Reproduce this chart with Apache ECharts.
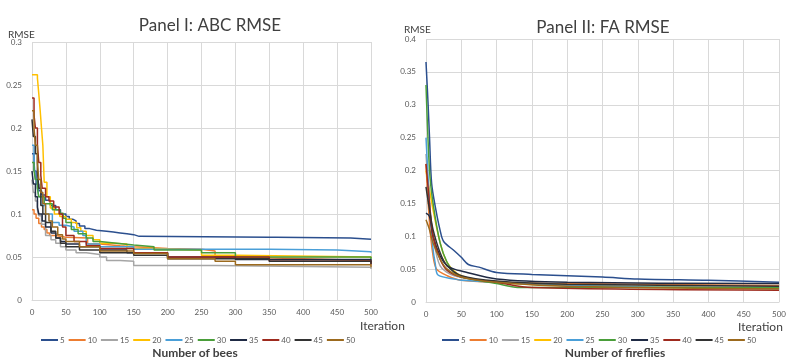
<!DOCTYPE html>
<html>
<head>
<meta charset="utf-8">
<script src="https://cdn.jsdelivr.net/npm/echarts@6/dist/echarts.min.js"></script>
<style>
  html, body {margin: 0; padding: 0; background: #fff;}
  #chart {width: 789px; height: 361px;}
</style>
</head>
<body>
<div id="chart"></div>
<script>
// legend names (population size)
var sizes = ['5', '10', '15', '20', '25', '30', '35', '40', '45', '50'];
var colors = ['#2b4f8e', '#ed7d31', '#a5a5a5', '#ffc000', '#4a9fd8', '#4a9e3a', '#1f2a44', '#9e2a1e', '#333333', '#9c6a1e'];
var xTicks = [0, 50, 100, 150, 200, 250, 300, 350, 400, 450, 500];

// Panel I: ABC RMSE, [iteration, rmse]
var abc5 = [[0, 0.17], [3, 0.15], [6, 0.135], [10, 0.127], [14, 0.122], [20, 0.116], [27, 0.11], [35, 0.105], [42, 0.1], [50, 0.097], [55, 0.094], [60, 0.092], [65, 0.089], [70, 0.086], [78, 0.083], [85, 0.081], [95, 0.080], [110, 0.079], [120, 0.078], [130, 0.077], [140, 0.076], [150, 0.074], [158, 0.073], [350, 0.073], [360, 0.072], [470, 0.0705], [500, 0.0705]];
var abc10 = [[0, 0.105], [3, 0.1], [6, 0.095], [10, 0.089], [14, 0.085], [18, 0.082], [22, 0.078], [26, 0.075], [35, 0.073], [50, 0.072], [82, 0.065], [100, 0.063], [130, 0.062], [150, 0.060], [200, 0.059], [250, 0.057], [270, 0.050], [300, 0.048], [400, 0.046], [500, 0.043]];
var abc15 = [[0, 0.14], [2, 0.125], [5, 0.115], [8, 0.105], [10, 0.098], [14, 0.088], [20, 0.075], [28, 0.07], [35, 0.066], [42, 0.062], [50, 0.058], [65, 0.055], [80, 0.053], [100, 0.050], [110, 0.046], [130, 0.045], [150, 0.040], [270, 0.038], [500, 0.036]];
var abc20 = [[0, 0.262], [8, 0.258], [10, 0.24], [12, 0.221], [14, 0.2], [16, 0.18], [18, 0.137], [22, 0.12], [27, 0.107], [33, 0.1], [41, 0.097], [50, 0.094], [58, 0.09], [66, 0.084], [72, 0.08], [80, 0.075], [90, 0.07], [100, 0.066], [120, 0.065], [140, 0.060], [180, 0.058], [250, 0.052], [300, 0.050], [500, 0.049]];
var abc25 = [[0, 0.18], [3, 0.16], [5, 0.14], [8, 0.13], [10, 0.12], [15, 0.11], [20, 0.1], [30, 0.09], [40, 0.087], [50, 0.085], [62, 0.08], [75, 0.075], [80, 0.065], [100, 0.062], [150, 0.059], [350, 0.058], [450, 0.056], [500, 0.055]];
var abc30 = [[0, 0.16], [3, 0.15], [5, 0.14], [8, 0.13], [10, 0.12], [18, 0.112], [30, 0.105], [41, 0.101], [46, 0.095], [50, 0.090], [58, 0.082], [68, 0.077], [80, 0.072], [90, 0.068], [100, 0.066], [125, 0.064], [150, 0.062], [180, 0.058], [250, 0.055], [300, 0.050], [500, 0.047]];
var abc35 = [[0, 0.15], [2, 0.135], [5, 0.12], [8, 0.108], [10, 0.10], [15, 0.092], [20, 0.085], [28, 0.078], [35, 0.072], [42, 0.068], [50, 0.065], [70, 0.062], [100, 0.058], [140, 0.055], [200, 0.050], [300, 0.047], [500, 0.044]];
var abc40 = [[0, 0.235], [3, 0.215], [5, 0.20], [8, 0.18], [10, 0.16], [13, 0.145], [15, 0.13], [20, 0.12], [25, 0.115], [32, 0.108], [40, 0.10], [45, 0.085], [50, 0.075], [62, 0.068], [80, 0.063], [100, 0.060], [150, 0.055], [200, 0.050], [350, 0.045], [500, 0.041]];
var abc45 = [[0, 0.21], [2, 0.19], [5, 0.17], [8, 0.15], [10, 0.13], [13, 0.11], [16, 0.1], [20, 0.09], [28, 0.08], [35, 0.072], [42, 0.066], [50, 0.062], [70, 0.058], [100, 0.055], [150, 0.052], [200, 0.048], [350, 0.045], [500, 0.042]];
var abc50 = [[0, 0.22], [3, 0.2], [5, 0.18], [8, 0.16], [10, 0.14], [13, 0.125], [16, 0.112], [20, 0.10], [25, 0.092], [30, 0.085], [38, 0.076], [45, 0.071], [50, 0.068], [70, 0.062], [100, 0.057], [150, 0.054], [200, 0.048], [270, 0.045], [300, 0.041], [500, 0.038]];

// Panel II: FA RMSE, [iteration, rmse]
var fa5 = [[0, 0.365], [3, 0.30], [5, 0.25], [8, 0.18], [14, 0.14], [20, 0.109], [25, 0.092], [40, 0.078], [50, 0.068], [60, 0.057], [75, 0.053], [100, 0.045], [150, 0.042], [250, 0.038], [300, 0.035], [400, 0.033], [500, 0.030]];
var fa10 = [[0, 0.21], [5, 0.12], [10, 0.07], [15, 0.050], [30, 0.040], [50, 0.033], [100, 0.030], [200, 0.028], [500, 0.025]];
var fa15 = [[0, 0.225], [5, 0.15], [10, 0.10], [20, 0.055], [40, 0.040], [100, 0.030], [200, 0.025], [500, 0.022]];
var fa20 = [[0, 0.20], [5, 0.17], [10, 0.14], [20, 0.09], [30, 0.06], [50, 0.040], [100, 0.030], [200, 0.025], [500, 0.020]];
var fa25 = [[0, 0.25], [5, 0.15], [10, 0.08], [13, 0.059], [17, 0.041], [40, 0.035], [50, 0.033], [100, 0.030], [200, 0.025], [500, 0.020]];
var fa30 = [[0, 0.33], [5, 0.20], [10, 0.15], [20, 0.09], [30, 0.06], [40, 0.045], [50, 0.038], [100, 0.028], [130, 0.022], [200, 0.022], [500, 0.022]];
var fa35 = [[0, 0.135], [5, 0.13], [10, 0.10], [20, 0.07], [30, 0.055], [40, 0.050], [50, 0.047], [100, 0.035], [200, 0.030], [500, 0.028]];
var fa40 = [[0, 0.21], [5, 0.15], [10, 0.10], [20, 0.065], [30, 0.048], [50, 0.038], [100, 0.030], [150, 0.022], [500, 0.018]];
var fa45 = [[0, 0.175], [5, 0.14], [10, 0.11], [20, 0.075], [30, 0.055], [50, 0.040], [100, 0.032], [200, 0.027], [500, 0.024]];
var fa50 = [[0, 0.125], [5, 0.11], [10, 0.09], [20, 0.065], [30, 0.050], [50, 0.038], [100, 0.030], [200, 0.024], [500, 0.020]];

var abcData = [abc5, abc10, abc15, abc20, abc25, abc30, abc35, abc40, abc45, abc50];
var faData = [fa5, fa10, fa15, fa20, fa25, fa30, fa35, fa40, fa45, fa50];

var myChart = echarts.init(document.getElementById('chart'));

function xAxisOf(gridIndex) {
    return {
        type: 'value', gridIndex: gridIndex, min: 0, max: 500, interval: 50,
        axisLine: {lineStyle: {color: '#d9d9d9'}},
        axisTick: {show: false},
        axisLabel: {fontSize: 8, color: '#595959', margin: 8},
        splitLine: {show: true, lineStyle: {color: '#d9d9d9', width: 1}}
    };
}
function yAxisOf(gridIndex, max) {
    return {
        type: 'value', gridIndex: gridIndex, min: 0, max: max, interval: 0.05,
        axisLine: {show: false},
        axisTick: {show: false},
        axisLabel: {fontSize: 8, color: '#595959', margin: 10},
        splitLine: {lineStyle: {color: '#d9d9d9', width: 1}}
    };
}
function legendOf(left) {
    return {
        left: left, top: 331, width: 340, data: sizes,
        icon: 'rect', itemWidth: 17, itemHeight: 2, itemGap: 4,
        textStyle: {fontSize: 8, color: '#595959', padding: [0, 0, 0, -3]}
    };
}

var series = [];
sizes.forEach(function (s, i) {
    series.push({
        name: s, type: 'line', xAxisIndex: 0, yAxisIndex: 0, step: 'end',
        symbol: 'none', data: abcData[i],
        lineStyle: {width: 1.5, color: colors[i]}, itemStyle: {color: colors[i]}
    });
});
sizes.forEach(function (s, i) {
    series.push({
        name: s, type: 'line', xAxisIndex: 1, yAxisIndex: 1, smooth: 0.3,
        symbol: 'none', data: faData[i],
        lineStyle: {width: 1.5, color: colors[i]}, itemStyle: {color: colors[i]}
    });
});

var option = {
    backgroundColor: '#fff',
    animation: false,
    textStyle: {fontFamily: 'Lato'},
    title: [
        {text: 'Panel I: ABC RMSE', left: 205, top: 12, textAlign: 'center', textStyle: {fontSize: 17, fontWeight: 'normal', color: '#404040', fontFamily: 'Lato'}},
        {text: 'Panel II: FA RMSE', left: 598, top: 14, textAlign: 'center', textStyle: {fontSize: 17, fontWeight: 'normal', color: '#404040', fontFamily: 'Lato'}},
        {text: 'RMSE', left: 3, top: 25, textStyle: {fontSize: 10, fontWeight: 'normal', color: '#404040', fontFamily: 'Lato'}},
        {text: 'RMSE', left: 399, top: 20, textStyle: {fontSize: 10, fontWeight: 'normal', color: '#404040', fontFamily: 'Lato'}},
        {text: 'Iteration', left: 355, top: 315, textStyle: {fontSize: 12, fontWeight: 'normal', color: '#404040', fontFamily: 'Lato'}},
        {text: 'Iteration', left: 733, top: 316, textStyle: {fontSize: 12, fontWeight: 'normal', color: '#404040', fontFamily: 'Lato'}},
        {text: 'Number of bees', left: 190, top: 342, textAlign: 'center', textStyle: {fontSize: 12, fontWeight: 'bold', color: '#404040', fontFamily: 'Lato'}},
        {text: 'Number of fireflies', left: 610, top: 342, textAlign: 'center', textStyle: {fontSize: 12, fontWeight: 'bold', color: '#404040', fontFamily: 'Lato'}}
    ],
    legend: [legendOf(36), legendOf(437)],
    grid: [
        {left: 32, right: 418, top: 42, bottom: 61},
        {left: 426, right: 10, top: 39, bottom: 59}
    ],
    xAxis: [xAxisOf(0), xAxisOf(1)],
    yAxis: [yAxisOf(0, 0.3), yAxisOf(1, 0.4)],
    series: series
};

myChart.setOption(option);
</script>
</body>
</html>
